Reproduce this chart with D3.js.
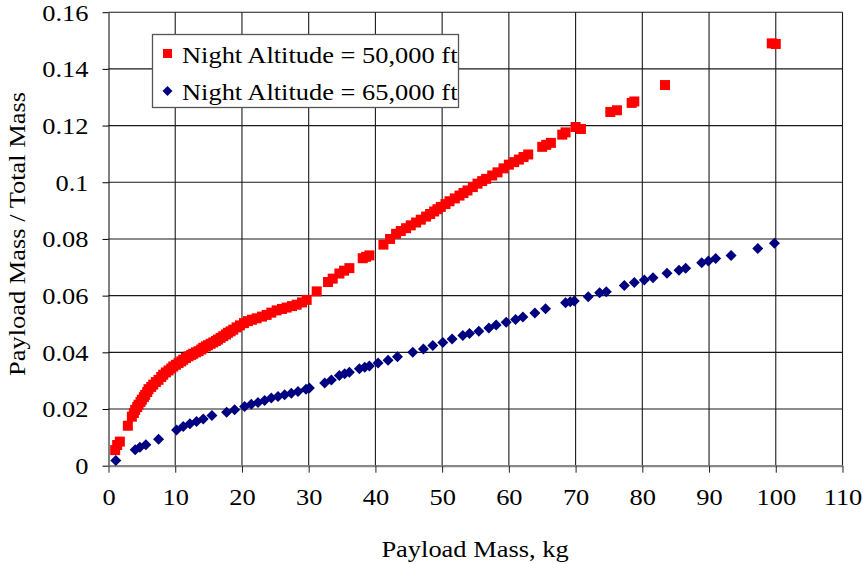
<!DOCTYPE html>
<html>
<head>
<meta charset="utf-8">
<script src="https://cdn.jsdelivr.net/npm/d3@7"></script>
<style>
  body { margin: 0; background: #fff; }
  svg { display: block; font-family: "Liberation Serif", "Times New Roman", serif; }
</style>
</head>
<body>
<svg id="chart" width="863" height="564"></svg>
<script>
// Night altitude 50,000 ft — [payload kg, payload/total]
const night50k = [
  [1.0,0.0055],[1.3,0.0073],[1.7,0.0085],[2.9,0.0141],[3.5,0.0173],[3.8,0.0186],[4.0,0.0197],
  [4.3,0.0207],[4.5,0.0215],[4.8,0.0225],[5.0,0.0233],[5.3,0.0242],[5.5,0.0250],[5.8,0.0260],
  [6.0,0.0270],[6.4,0.0278],[6.7,0.0286],[7.1,0.0295],[7.5,0.0303],[7.9,0.0313],[8.2,0.0321],
  [8.6,0.0329],[9.0,0.0336],[9.4,0.0343],[9.7,0.0350],[10.1,0.0356],[10.5,0.0362],[10.9,0.0368],
  [11.2,0.0374],[11.6,0.0380],[12.0,0.0386],[12.4,0.0391],[12.7,0.0395],[13.1,0.0400],[13.5,0.0404],
  [13.9,0.0410],[14.2,0.0416],[14.6,0.0421],[14.9,0.0425],[15.3,0.0430],[15.7,0.0435],[16.1,0.0440],
  [16.4,0.0445],[16.8,0.0451],[17.2,0.0457],[17.6,0.0463],[17.9,0.0469],[18.3,0.0474],[18.7,0.0480],
  [19.2,0.0488],[19.7,0.0495],[20.3,0.0503],[20.9,0.0510],[21.5,0.0515],[22.2,0.0520],[23.0,0.0526],
  [23.7,0.0532],[24.4,0.0540],[25.2,0.0548],[26.0,0.0553],[26.7,0.0558],[27.5,0.0563],[28.2,0.0568],
  [29.0,0.0576],[29.7,0.0585],[31.2,0.0615],[32.9,0.0648],[33.6,0.0660],[34.6,0.0678],[35.3,0.0688],
  [36.1,0.0697],[38.1,0.0732],[38.6,0.0737],[39.1,0.0742],[41.2,0.0780],[42.2,0.0800],[43.1,0.0818],
  [43.8,0.0828],[44.6,0.0838],[45.3,0.0848],[46.1,0.0858],[46.8,0.0868],[47.6,0.0879],[48.2,0.0888],
  [48.8,0.0897],[49.3,0.0905],[49.8,0.0913],[50.5,0.0923],[51.1,0.0933],[51.9,0.0943],[52.6,0.0953],
  [53.2,0.0962],[53.8,0.0971],[54.6,0.0983],[55.3,0.0995],[56.0,0.1004],[56.6,0.1012],[57.5,0.1024],
  [58.3,0.1035],[59.2,0.1049],[60.0,0.1062],[60.8,0.1071],[61.5,0.1080],[62.2,0.1089],[62.9,0.1098],
  [65.0,0.1125],[65.6,0.1132],[66.3,0.1139],[68.0,0.1168],[68.5,0.1176],[70.0,0.1195],[70.8,0.1188],
  [75.2,0.1248],[76.2,0.1254],[78.4,0.1280],[78.8,0.1285],[83.4,0.1343],[99.4,0.1490],[100.0,0.1488]
];

// Night altitude 65,000 ft — [payload kg, payload/total]
const night65k = [
  [1.1,0.0018],[4.0,0.0056],[4.7,0.0065],[5.6,0.0074],[7.5,0.0093],[10.2,0.0126],[11.2,0.0138],
  [12.2,0.0148],[13.2,0.0156],[14.2,0.0165],[15.5,0.0177],[17.7,0.0189],[18.9,0.0197],[20.4,0.0209],
  [21.4,0.0217],[22.4,0.0223],[23.4,0.0230],[24.4,0.0239],[25.4,0.0244],[26.4,0.0250],[27.4,0.0256],
  [28.4,0.0262],[29.6,0.0270],[30.1,0.0274],[32.4,0.0292],[33.4,0.0302],[34.6,0.0318],[35.4,0.0324],
  [36.1,0.0330],[37.6,0.0342],[38.4,0.0347],[39.1,0.0352],[40.4,0.0362],[41.9,0.0372],[43.3,0.0384],
  [45.6,0.0400],[47.2,0.0412],[48.6,0.0424],[50.1,0.0435],[51.5,0.0447],[53.1,0.0459],[54.1,0.0466],
  [55.5,0.0474],[57.0,0.0486],[58.1,0.0496],[59.6,0.0506],[61.0,0.0516],[62.1,0.0525],[63.9,0.0539],
  [65.5,0.0554],[68.5,0.0575],[69.2,0.0578],[69.8,0.0581],[71.9,0.0596],[73.6,0.0610],[74.6,0.0614],
  [77.3,0.0636],[78.8,0.0646],[80.3,0.0655],[81.6,0.0663],[83.7,0.0679],[85.5,0.0690],[86.5,0.0697],
  [88.9,0.0716],[89.9,0.0722],[91.0,0.0731],[93.3,0.0742],[97.3,0.0766],[99.8,0.0785]
];

const xTicks = [0,10,20,30,40,50,60,70,80,90,100,110];
const yTicks = [0,0.02,0.04,0.06,0.08,0.1,0.12,0.14,0.16];
const yTickLabels = ["0","0.02","0.04","0.06","0.08","0.1","0.12","0.14","0.16"];
const seriesNames = ["Night Altitude = 50,000 ft", "Night Altitude = 65,000 ft"];

const RED = '#ff0000';
const NAVY = '#000080';
const STRETCH = 1.15;   // source font runs wider than Liberation Serif

const svg = d3.select('#chart');
const x = d3.scaleLinear().domain([0, 110]).range([108.5, 842.5]);
const y = d3.scaleLinear().domain([0, 0.16]).range([465.7, 12.2]);

// gridlines
const grid = svg.append('g');
grid.selectAll('.vg').data(xTicks.slice(1)).enter().append('line')
  .attr('x1', d => x(d)).attr('x2', d => x(d))
  .attr('y1', y(0.16)).attr('y2', y(0))
  .attr('stroke', '#1a1a1a').attr('stroke-width', 1.1);
grid.selectAll('.hg').data(yTicks.slice(1)).enter().append('line')
  .attr('x1', x(0)).attr('x2', x(110))
  .attr('y1', d => y(d)).attr('y2', d => y(d))
  .attr('stroke', '#1a1a1a').attr('stroke-width', 1.1);

// axes
const yAxis = svg.append('g')
  .attr('transform', `translate(${x(0)},0)`)
  .call(d3.axisLeft(y).tickValues(yTicks).tickSize(6).tickSizeOuter(0)
    .tickFormat((d, i) => yTickLabels[i]));
yAxis.select('.domain').attr('stroke', '#000');
yAxis.selectAll('.tick line').attr('stroke', '#000');
yAxis.selectAll('text')
  .attr('font-family', 'Liberation Serif, serif').attr('font-size', 23).attr('fill', '#000')
  .attr('x', -20 / STRETCH).attr('dy', '0.34em')
  .attr('transform', `scale(${STRETCH},1)`);

const xAxis = svg.append('g')
  .attr('transform', `translate(0,${y(0)})`)
  .call(d3.axisBottom(x).tickValues(xTicks).tickSize(7).tickSizeOuter(0)
    .tickFormat(d3.format('d')));
xAxis.select('.domain').attr('stroke', '#888').attr('stroke-width', 2.2);
xAxis.selectAll('.tick line').attr('stroke', '#222');
xAxis.selectAll('text')
  .attr('font-family', 'Liberation Serif, serif').attr('font-size', 23).attr('fill', '#000')
  .attr('x', 0).attr('y', 39).attr('dy', 0)
  .attr('transform', `scale(${STRETCH},1)`);

// markers
const sq = 10;
svg.append('g').selectAll('rect').data(night50k).enter().append('rect')
  .attr('x', d => x(d[0]) - sq / 2).attr('y', d => y(d[1]) - sq / 2)
  .attr('width', sq).attr('height', sq).attr('fill', RED);

const dm = 5.5;
const diamond = `M0,${-dm}L${dm},0L0,${dm}L${-dm},0Z`;
svg.append('g').selectAll('path').data(night65k).enter().append('path')
  .attr('d', diamond)
  .attr('transform', d => `translate(${x(d[0])},${y(d[1])})`)
  .attr('fill', NAVY);

// legend
const lg = svg.append('g');
lg.append('rect').attr('x', 152.5).attr('y', 34.5).attr('width', 306).attr('height', 73)
  .attr('fill', '#fff').attr('stroke', '#555').attr('stroke-width', 1.3);
lg.append('rect').attr('x', 163).attr('y', 49).attr('width', 9).attr('height', 9).attr('fill', RED);
lg.append('path').attr('d', `M0,-5L5,0L0,5L-5,0Z`).attr('transform', 'translate(167.5,91)').attr('fill', NAVY);
seriesNames.forEach((name, i) => {
  lg.append('text')
    .attr('transform', `translate(182,${63 + i * 37}) scale(${STRETCH},1)`)
    .attr('font-size', 23).attr('fill', '#000')
    .text(name);
});

// axis titles
svg.append('text')
  .attr('transform', `translate(475,557) scale(${STRETCH},1)`)
  .attr('text-anchor', 'middle').attr('font-size', 23).attr('fill', '#000')
  .text('Payload Mass, kg');

svg.append('text')
  .attr('transform', `translate(25,234) rotate(-90) scale(${STRETCH},1)`)
  .attr('text-anchor', 'middle').attr('font-size', 23).attr('fill', '#000')
  .text('Payload Mass / Total Mass');
</script>
</body>
</html>
